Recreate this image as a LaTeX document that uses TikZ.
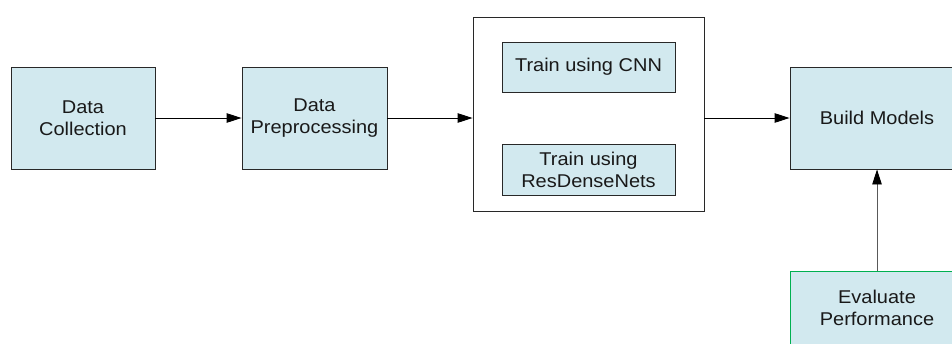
\documentclass[tikz,border=0pt]{standalone}
\usepackage{fontspec}
\setmainfont{Liberation Sans}[FakeStretch=1.08]
\usetikzlibrary{arrows.meta,positioning}
\definecolor{boxfill}{RGB}{210,233,239}
\definecolor{boxline}{RGB}{40,40,40}
\definecolor{evalline}{RGB}{0,176,80}
\definecolor{txt}{RGB}{25,25,25}
\begin{document}
\begin{tikzpicture}[x=1pt,y=-1pt,
  stepbox/.style={draw=boxline,line width=0.9pt,fill=boxfill,inner sep=0pt,
    text=txt,align=center,font=\fontsize{18.5}{22}\selectfont},
  arr/.style={line width=0.9pt,-{Triangle[length=15pt,width=9.5pt]}},
]
\useasboundingbox (0,0) rectangle (952,343);
\clip (0,0) rectangle (952,343);
\node[stepbox,minimum width=144pt,minimum height=102pt] (dc) at (83,118) {Data\\Collection};
\node[stepbox,minimum width=145pt,minimum height=102pt] (dp) at (314.5,118) {Data\\Preprocessing};
\node[draw=boxline,line width=0.9pt,fill=white,minimum width=231pt,minimum height=194pt,inner sep=0pt] (big) at (588.5,114) {};
\node[stepbox,minimum width=173pt,minimum height=50pt] (cnn) at (588.5,67) {Train using CNN};
\node[stepbox,minimum width=173pt,minimum height=51pt] (rdn) at (588.5,169.5) {Train using\\ResDenseNets};
\node[stepbox,minimum width=174pt,minimum height=102pt] (bm) at (877,118) {Build Models};
\node[stepbox,draw=evalline,minimum width=174pt,minimum height=102pt,anchor=north] (ev) at (877,271) {};
\node[text=txt,align=center,font=\fontsize{18.5}{22}\selectfont] (evt) at (877,308) {Evaluate\\Performance};
\draw[arr] (dc.east) -- (dp.west);
\draw[arr] (dp.east) -- (dp.east -| big.west);
\draw[arr] (big.east |- bm.west) -- (bm.west);
\draw[line width=0.9pt,draw=gray!70!black,-{Triangle[length=15pt,width=9.5pt,color=black]}] (ev.north) -- (bm.south);
\end{tikzpicture}
\end{document}
